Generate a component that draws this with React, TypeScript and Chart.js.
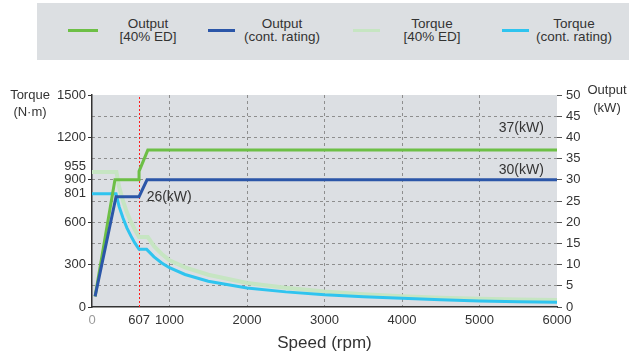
import React, { useEffect, useRef } from "react";
import { Chart, registerables } from "chart.js";

Chart.register(...registerables);

// ---- data ----
const outputEdSpeed = [40, 296, 607, 607, 720, 6000];
const outputEdKW = [2.5, 30, 30, 32, 37, 37];

const outputContSpeed = [40, 310, 607, 710, 6000];
const outputContKW = [2.5, 26, 26, 30, 30];

const torqueEdSpeed = [0, 315, 350, 400, 450, 500, 550, 607, 720, 800, 900, 1000, 1200, 1500, 2000, 2500, 3000, 3500, 4000, 4500, 5000, 5500, 6000];
const torqueEdNm = [955, 955, 850, 750, 670, 605, 550, 495, 495, 430, 375, 330, 280, 228, 170, 136, 110, 91, 76, 66, 58, 53, 49];

const torqueContSpeed = [0, 310, 350, 400, 450, 500, 550, 607, 705, 800, 900, 1000, 1200, 1500, 2000, 2500, 3000, 3500, 4000, 4500, 5000, 5500, 6000];
const torqueContNm = [801, 801, 710, 630, 560, 505, 455, 408, 408, 355, 312, 278, 230, 182, 135, 107, 86, 73, 62, 52, 43, 38, 33];

const speedTicks = [0, 607, 1000, 2000, 3000, 4000, 5000, 6000];
const baseSpeed = 607;
const torqueTicks = [0, 300, 600, 801, 900, 955, 1200, 1500];
const outputTickStep = 5;

const seriesLabels = [
  ["Output", "[40% ED]"],
  ["Output", "(cont. rating)"],
  ["Torque", "[40% ED]"],
  ["Torque", "(cont. rating)"],
];
const annotationTexts = ["26(kW)", "37(kW)", "30(kW)"];

// ---- styles ----
const FONT = '"Liberation Sans", Arial, Helvetica, sans-serif';
const COLORS = ["#6dbf46", "#2b56a8", "#c6e5c2", "#2fc4ef"];
const TEXT = "#333333";
const GRID = "#8e8e8e";
const PLOT_BG = "#dcdfe3";
const CLEAR = "rgba(0,0,0,0)";

const legendLayout = [
  { lineX: 68, lineW: 30, textX: 148 },
  { lineX: 208, lineW: 27, textX: 282 },
  { lineX: 353, lineW: 27, textX: 432 },
  { lineX: 502, lineW: 27, textX: 574 },
];

const labelNudge: Record<number, number> = { 955: 42 };

const pts = (xs: number[], ys: number[]) => xs.map((x, i) => ({ x, y: ys[i] }));

const decorPlugin = {
  id: "decor",
  beforeDraw(chart: any) {
    const { ctx, chartArea: a } = chart;
    ctx.save();
    ctx.fillStyle = PLOT_BG;
    ctx.fillRect(a.left, a.top, a.right - a.left, a.bottom - a.top);
    ctx.restore();
  },
  beforeDatasetsDraw(chart: any) {
    const { ctx, chartArea: a, scales } = chart;
    const px = Math.round(scales.x.getPixelForValue(baseSpeed)) + 0.5;
    ctx.save();
    ctx.strokeStyle = "#ff1c1c";
    ctx.lineWidth = 1;
    ctx.setLineDash([2, 2]);
    ctx.beginPath();
    ctx.moveTo(px, a.bottom);
    ctx.lineTo(px, a.top);
    ctx.stroke();
    ctx.restore();
  },
  afterDatasetsDraw(chart: any) {
    const { ctx, scales } = chart;
    const x = scales.x;
    const yr = scales.yR;
    ctx.save();
    ctx.font = `14px ${FONT}`;
    ctx.fillStyle = TEXT;
    ctx.textBaseline = "middle";
    ctx.textAlign = "left";
    ctx.fillText(annotationTexts[0], x.getPixelForValue(705), yr.getPixelForValue(26));
    ctx.textAlign = "right";
    ctx.fillText(annotationTexts[1], x.getPixelForValue(5830), yr.getPixelForValue(42.2));
    ctx.fillText(annotationTexts[2], x.getPixelForValue(5830), yr.getPixelForValue(32.3));
    ctx.restore();
  },
};

function ChartCanvas() {
  const ref = useRef<HTMLCanvasElement | null>(null);
  useEffect(() => {
    if (!ref.current) return;
    Chart.defaults.font.family = FONT;
    const chart = new Chart(ref.current, {
      type: "line",
      data: {
        datasets: [
          {
            label: seriesLabels[0].join(" "),
            data: pts(outputEdSpeed, outputEdKW),
            yAxisID: "yR",
            borderColor: COLORS[0],
            borderWidth: 3,
            pointRadius: 0,
            tension: 0,
            order: 1,
          },
          {
            label: seriesLabels[1].join(" "),
            data: pts(outputContSpeed, outputContKW),
            yAxisID: "yR",
            borderColor: COLORS[1],
            borderWidth: 3,
            pointRadius: 0,
            tension: 0,
            order: 0,
          },
          {
            label: seriesLabels[2].join(" "),
            data: pts(torqueEdSpeed, torqueEdNm),
            yAxisID: "y",
            borderColor: COLORS[2],
            borderWidth: 4,
            pointRadius: 0,
            tension: 0,
            order: 3,
          },
          {
            label: seriesLabels[3].join(" "),
            data: pts(torqueContSpeed, torqueContNm),
            yAxisID: "y",
            borderColor: COLORS[3],
            borderWidth: 3,
            pointRadius: 0,
            tension: 0,
            order: 2,
          },
        ],
      },
      options: {
        responsive: false,
        animation: false,
        events: [],
        layout: { padding: { top: 95, left: 0, right: 0, bottom: 0 } },
        plugins: { legend: { display: false }, tooltip: { enabled: false } },
        scales: {
          x: {
            type: "linear",
            min: 0,
            max: 6000,
            afterBuildTicks: (s: any) => {
              s.ticks = speedTicks.map((v) => ({ value: v }));
            },
            afterFit: (s: any) => {
              s.height = 47;
            },
            grid: {
              drawTicks: false,
              lineWidth: 1,
              color: (c: any) => {
                const v = speedTicks[c.index];
                if (v === baseSpeed || v === 0 || v === 6000) return CLEAR;
                return GRID;
              },
            },
            border: { display: true, color: TEXT, width: 1.5, dash: [3, 3] },
            ticks: {
              autoSkip: false,
              maxRotation: 0,
              padding: 6,
              font: { size: 13 },
              color: (c: any) => (speedTicks[c.index] === 0 ? "#9a9a9a" : TEXT),
              callback: (_v: any, i: number) => String(speedTicks[i]),
            },
            title: {
              display: true,
              text: "Speed (rpm)",
              color: TEXT,
              font: { size: 17 },
              padding: { top: 0, bottom: 0 },
            },
          },
          y: {
            type: "linear",
            position: "left",
            min: 0,
            max: 1500,
            afterBuildTicks: (s: any) => {
              s.ticks = torqueTicks.map((v) => ({ value: v + (labelNudge[v] || 0) }));
            },
            afterFit: (s: any) => {
              s.width = 92;
            },
            grid: {
              drawOnChartArea: false,
              drawTicks: true,
              tickLength: 4,
              tickColor: (c: any) => {
                const v = torqueTicks[c.index];
                return v === 801 || v === 955 ? CLEAR : TEXT;
              },
            },
            border: { display: true, color: TEXT, width: 1.5 },
            ticks: {
              autoSkip: false,
              padding: 2,
              color: TEXT,
              font: { size: 13 },
              callback: (_v: any, i: number) => String(torqueTicks[i]),
            },
          },
          yR: {
            type: "linear",
            position: "right",
            min: 0,
            max: 50,
            afterFit: (s: any) => {
              s.width = 72;
            },
            grid: {
              drawOnChartArea: true,
              drawTicks: true,
              tickLength: 5,
              tickColor: "#555555",
              lineWidth: 1,
              color: (c: any) => {
                const v = c.tick ? c.tick.value : -1;
                return v === 0 || v === 50 ? CLEAR : GRID;
              },
            },
            border: { display: false, dash: [3, 3] },
            ticks: {
              stepSize: outputTickStep,
              autoSkip: false,
              padding: 4,
              color: TEXT,
              font: { size: 13 },
            },
          },
        },
      },
      plugins: [decorPlugin],
    } as any);
    return () => chart.destroy();
  }, []);
  return <canvas ref={ref} width={629} height={354} style={{ display: "block", width: 629, height: 354 }} />;
}

export default function App() {
  const txt: React.CSSProperties = {
    position: "absolute",
    fontFamily: FONT,
    fontSize: 13,
    color: TEXT,
    lineHeight: "16px",
    whiteSpace: "nowrap",
    transform: "translate(-50%, -50%)",
  };
  return (
    <div style={{ position: "absolute", left: 0, top: 0, width: 629, height: 354, background: "#fff", overflow: "hidden" }}>
      <ChartCanvas />
      <div style={{ position: "absolute", left: 37, top: 3, width: 592, height: 57, background: "#dcdfe2" }} />
      {seriesLabels.map((lab, i) => (
        <React.Fragment key={i}>
          <div
            style={{
              position: "absolute",
              left: legendLayout[i].lineX,
              top: 29,
              width: legendLayout[i].lineW,
              height: 3,
              background: COLORS[i],
            }}
          />
          <div
            style={{
              position: "absolute",
              left: legendLayout[i].textX,
              top: 30,
              transform: "translate(-50%, -50%)",
              fontFamily: FONT,
              fontSize: 13.5,
              lineHeight: "13px",
              color: TEXT,
              textAlign: "center",
              whiteSpace: "nowrap",
            }}
          >
            <div>{lab[0]}</div>
            <div>{lab[1]}</div>
          </div>
        </React.Fragment>
      ))}
      <div style={{ ...txt, left: 30, top: 95 }}>Torque</div>
      <div style={{ ...txt, left: 30, top: 112 }}>(N·m)</div>
      <div style={{ ...txt, left: 607, top: 90 }}>Output</div>
      <div style={{ ...txt, left: 607, top: 108 }}>(kW)</div>
    </div>
  );
}
